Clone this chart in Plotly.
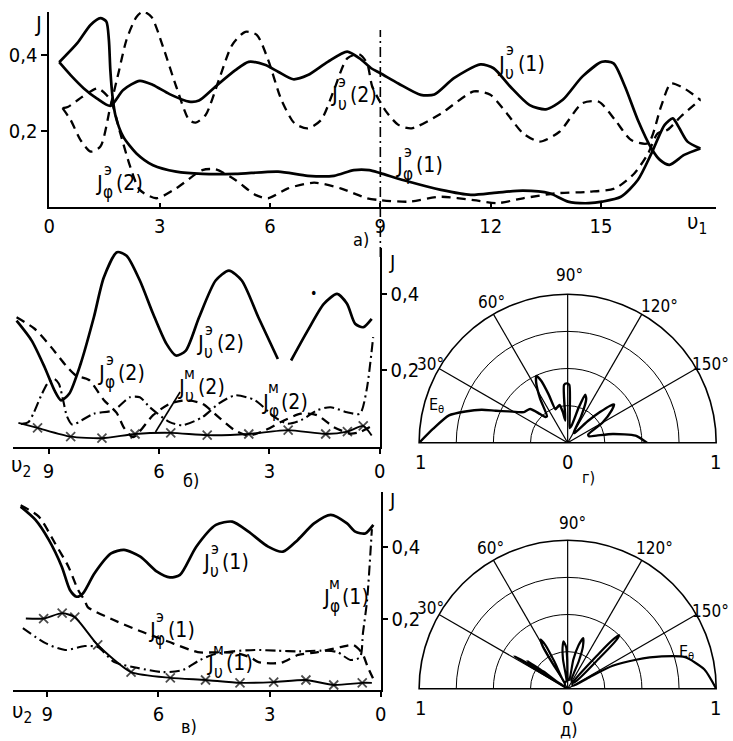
import plotly.graph_objects as go

W, H = 733, 741
FONT = "DejaVu Sans Condensed, Liberation Sans Narrow, DejaVu Sans, sans-serif"

# ---------------- panel а): J vs v1 ----------------
a_ticks = [0, 3, 6, 9, 12, 15]
a_yticks = [0.2, 0.4]
a_ytext = ["0,2", "0,4"]
a_marker_line = 9
a_Jv1 = [(0.27,0.381),(0.58,0.347),(0.94,0.312),(1.3,0.285),(1.66,0.266),(2.01,0.308),(2.46,0.332),
         (2.82,0.321),(3.27,0.297),(3.8,0.277),(4.07,0.28),(4.52,0.317),(5.06,0.36),(5.42,0.382),
         (5.86,0.374),(6.22,0.356),(6.63,0.336),(7.03,0.347),(7.57,0.382),(8.1,0.409),(8.45,0.39),
         (8.75,0.365),(9.0,0.352),(9.49,0.325),(10.1,0.295),(10.47,0.296),(11.0,0.339),(11.72,0.375),
         (12.08,0.365),(12.53,0.317),(13.06,0.268),(13.5,0.257),(13.96,0.282),(14.49,0.343),
         (15.03,0.382),(15.34,0.378),(15.65,0.317),(16.0,0.229),(16.37,0.154),(16.6,0.124),
         (16.86,0.111),(17.26,0.137),(17.7,0.154)]
a_Jphi1 = [(0.27,0.381),(0.76,0.431),(1.12,0.479),(1.39,0.497),(1.55,0.488),(1.62,0.44),(1.66,0.36),
           (1.72,0.29),(1.8,0.24),(2.01,0.185),(2.37,0.141),(2.82,0.11),(3.45,0.093),(4.16,0.087),
           (5.06,0.087),(6.22,0.093),(7.03,0.082),(7.74,0.082),(8.28,0.097),(8.7,0.097),(9.0,0.089),
           (9.76,0.067),(10.65,0.045),(11.46,0.032),(12.17,0.038),(12.88,0.043),(13.6,0.036),
           (14.1,0.014),(14.67,0.01),(15.03,0.014),(15.54,0.027),(16.0,0.071),(16.37,0.141),
           (16.73,0.216),(16.95,0.233),(17.13,0.207),(17.35,0.172),(17.7,0.154)]
a_Jv2 = [(0.36,0.26),(0.58,0.229),(0.85,0.176),(1.12,0.146),(1.39,0.159),(1.66,0.264),(1.88,0.352),
         (2.1,0.44),(2.37,0.5),(2.55,0.514),(2.78,0.5),(3.09,0.422),(3.45,0.317),(3.8,0.229),
         (3.98,0.222),(4.25,0.242),(4.61,0.334),(4.97,0.426),(5.33,0.461),(5.64,0.453),(5.95,0.387),
         (6.31,0.282),(6.67,0.22),(7.03,0.207),(7.39,0.229),(7.74,0.308),(8.1,0.391),(8.42,0.402),
         (8.64,0.378),(8.78,0.317),(9.13,0.255),(9.49,0.216),(9.85,0.207),(10.65,0.246),(11.54,0.304),
         (11.99,0.295),(12.44,0.246),(12.88,0.194),(13.33,0.172),(13.87,0.198),(14.49,0.273),
         (14.94,0.277),(15.38,0.229),(15.82,0.176),(16.28,0.168),(16.63,0.264),(16.9,0.325),
         (17.26,0.312),(17.7,0.282)]
a_Jphi2 = [(0.36,0.26),(0.5,0.263),(0.9,0.29),(1.32,0.312),(1.66,0.282),(1.93,0.194),(2.2,0.106),
           (2.46,0.045),(2.91,0.023),(3.45,0.049),(4.16,0.097),(4.52,0.099),(5.06,0.071),(5.6,0.032),
           (5.95,0.023),(6.49,0.049),(7.2,0.064),(7.92,0.049),(8.64,0.023),(9.0,0.018),(9.76,0.014),
           (10.65,0.027),(11.54,0.018),(12.17,0.01),(12.88,0.023),(13.78,0.036),(14.67,0.04),
           (15.38,0.049),(15.91,0.089),(16.28,0.141),(16.54,0.194),(16.81,0.203),(17.17,0.238),
           (17.7,0.282)]

# ---------------- panel б): J vs v2 (index 2) ----------------
b_ticks = [9, 6, 3, 0]
b_Jv2 = [(9.87,0.33),(9.46,0.278),(9.11,0.209),(8.84,0.148),(8.66,0.122),(8.44,0.139),(8.13,0.217),
         (7.77,0.339),(7.5,0.443),(7.14,0.509),(6.88,0.5),(6.52,0.435),(6.16,0.348),(5.8,0.27),
         (5.54,0.239),(5.27,0.252),(4.91,0.339),(4.46,0.435),(4.1,0.461),(3.75,0.435),(3.3,0.339),
         (2.77,0.23),(None,None),(2.41,0.226),(1.96,0.304),(1.52,0.374),(1.16,0.4),(0.89,0.374),
         (0.67,0.322),(0.45,0.313),(0.22,0.335)]
b_Jphi2 = [(9.87,0.339),(9.38,0.309),(8.93,0.261),(8.53,0.213),(8.26,0.187),(7.9,0.175),(7.5,0.123),
           (7.15,0.089),(6.95,0.05),(6.7,0.026),(6.16,0.083),(5.71,0.113),(5.27,0.122),(4.82,0.113),
           (4.38,0.078),(3.93,0.043),(3.57,0.03),(3.13,0.043),(2.59,0.07),(2.14,0.087),(1.7,0.083),
           (1.25,0.052),(0.8,0.035),(0.54,0.039),(0.27,0.052)]
b_Jphim2 = [(9.75,0.06),(9.55,0.065),(9.4,0.09),(9.2,0.135),(9.0,0.17),(8.85,0.178),(8.72,0.165),
            (8.6,0.12),(8.5,0.08),(8.35,0.058),(8.1,0.07),(7.77,0.087),(7.23,0.096),(6.79,0.13),
            (6.52,0.13),(6.25,0.104),(5.71,0.065),(5.36,0.057),(4.82,0.078),(4.38,0.113),(3.93,0.135),
            (3.39,0.122),(2.86,0.078),(2.5,0.061),(2.14,0.07),(1.7,0.096),(1.34,0.104),(0.89,0.091),
            (0.54,0.087),(0.36,0.148),(0.18,0.287)]
b_Jvm2 = [(9.82,0.063),(9.3,0.05),(8.4,0.027),(7.55,0.023),(6.65,0.034),(5.68,0.037),(4.69,0.031),
          (3.56,0.034),(2.49,0.044),(1.47,0.034),(0.88,0.04),(0.45,0.055),(0.22,0.03)]

# ---------------- panel в): J vs v2 (index 1) ----------------
c_Jv1 = [(9.72,0.513),(9.32,0.476),(8.96,0.42),(8.61,0.345),(8.39,0.28),(8.21,0.261),(8.04,0.27),
         (7.73,0.326),(7.28,0.382),(6.93,0.392),(6.49,0.373),(6.04,0.331),(5.69,0.315),(5.42,0.322),
         (4.98,0.401),(4.45,0.462),(4.01,0.471),(3.57,0.443),(3.04,0.401),(2.64,0.387),(2.24,0.42),
         (1.8,0.466),(1.35,0.49),(0.91,0.466),(0.69,0.443),(0.42,0.438),(0.2,0.462)]
c_Jphi1 = [(9.72,0.517),(9.23,0.485),(8.79,0.41),(8.43,0.345),(8.17,0.28),(7.99,0.25),(7.91,0.232),
           (7.3,0.2),(6.5,0.165),(5.8,0.138),(4.94,0.106),(4.5,0.105),(3.93,0.104),(3.5,0.09),
           (3.3,0.078),(2.7,0.076),(2.23,0.098),(1.7,0.106),(1.09,0.12),(0.74,0.126),(0.5,0.103),
           (0.35,0.064),(0.21,0.033)]
c_Jphim1 = [(9.66,0.173),(9.05,0.131),(8.52,0.112),(7.99,0.123),(7.64,0.12),(7.19,0.078),(6.58,0.062),
            (5.87,0.05),(5.34,0.056),(4.88,0.084),(4.5,0.1),(4.0,0.108),(3.4,0.112),(2.8,0.11),
            (2.2,0.108),(1.6,0.11),(1.17,0.106),(0.82,0.084),(0.56,0.092),(0.48,0.16),(0.37,0.25),
            (0.24,0.45)]
c_Jvm1 = [(9.58,0.2),(9.1,0.2),(8.6,0.215),(8.26,0.204),(7.64,0.126),(6.74,0.05),(5.68,0.034),
          (4.73,0.028),(3.8,0.02),(2.89,0.022),(2.02,0.028),(1.27,0.014),(0.5,0.02),(0.24,0.02)]

# ---------------- polar panels г) and д): E_theta ----------------
polar_spokes = [30, 60, 90, 120, 150]
polar_labels = ["30°", "60°", "90°", "120°", "150°"]
polar_rings = [0.25, 0.5, 0.75, 1.0]
g_theta = [0, 6, 13, 17, 21, 24, 28, 35, 42, 46, 49, 52, 58, 62.5, 65, 67, 68.5, 70, 74, 78, 81, 84,
           86.4, 89, 91.6, 94, 98, 103, 107.5, 110, 113, 117, 121, 125, 133, 136.5, 139, 140.5,
           143.5, 150, 158, 163, 166, 169, 174, 180]
g_r = [1, 0.91, 0.82, 0.72, 0.62, 0.53, 0.45, 0.36, 0.34, 0.27, 0.23, 0.226, 0.35, 0.46, 0.497,
       0.45, 0.35, 0.24, 0.25, 0.26, 0.21, 0.15, 0.39, 0.4, 0.39, 0.2, 0.1, 0.12, 0.25, 0.345, 0.32,
       0.2, 0.08, 0.08, 0.2, 0.3, 0.38, 0.405, 0.37, 0.27, 0.15, 0.15, 0.2, 0.31, 0.46, 0.534]
d_theta = [180, 172, 165, 161, 157, 153, 152, 150,
           130, 131.5, 132.8, 134, 135.2, 136, 136.5,
           115, 112, 110, 107, 104, 101, 100,
           92, 89, 88, 85, 83, 81, 80,
           63, 64, 63, 61, 59.5, 59, 62,
           36, 35.5, 34.6, 34, 34, 33, 31.5, 31, 33]
d_r = [1, 0.93, 0.82, 0.67, 0.5, 0.34, 0.17, 0.04,
       0.05, 0.3, 0.46, 0.5, 0.45, 0.3, 0.06,
       0.06, 0.2, 0.3, 0.357, 0.3, 0.2, 0.06,
       0.06, 0.2, 0.28, 0.32, 0.28, 0.2, 0.05,
       0.05, 0.2, 0.33, 0.378, 0.33, 0.2, 0.04,
       0.03, 0.2, 0.33, 0.2, 0.04, 0.25, 0.42, 0.25, 0.0]

fig = go.Figure()
SOLID = dict(color="black", width=2.7, shape="spline", smoothing=0.7)
DASH = dict(color="black", width=2.3, dash="9px,6px", shape="spline", smoothing=0.7)
DDOT = dict(color="black", width=2.1, dash="10px,4px,2px,4px", shape="spline", smoothing=0.7)
XLINE = dict(color="black", width=1.9, shape="spline", smoothing=0.6)


def add(pts, line, xa, ya, markers=False):
    xs = [p[0] for p in pts]
    ys = [p[1] for p in pts]
    tr = dict(x=xs, y=ys, line=line, xaxis=xa, yaxis=ya, hoverinfo="skip",
              mode="lines+markers" if markers else "lines", cliponaxis=False)
    if markers:
        sizes = [0] + [9] * (len(xs) - 2) + [0]
        tr["marker"] = dict(symbol="x-thin", size=sizes, color="black",
                            line=dict(color="black", width=1.8))
    fig.add_trace(go.Scatter(**tr))


add(a_Jv1, SOLID, "x", "y")
add(a_Jphi1, SOLID, "x", "y")
add(a_Jv2, DASH, "x", "y")
add(a_Jphi2, DASH, "x", "y")

add(b_Jv2, SOLID, "x2", "y2")
add(b_Jphi2, DASH, "x2", "y2")
add(b_Jphim2, DDOT, "x2", "y2")
add(b_Jvm2, XLINE, "x2", "y2", markers=True)

add(c_Jv1, SOLID, "x3", "y3")
add(c_Jphi1, DASH, "x3", "y3")
add(c_Jphim1, DDOT, "x3", "y3")
add(c_Jvm1, XLINE, "x3", "y3", markers=True)

# polar grid spokes and baseline, drawn through the polar scale
for sp in ("polar", "polar2"):
    sr, st = [1, 0, 1], [0, 0, 180]
    for a in polar_spokes:
        sr += [None, 0, 1]
        st += [None, a, a]
    fig.add_trace(go.Scatterpolar(r=sr, theta=st, mode="lines", subplot=sp, hoverinfo="skip",
                                  line=dict(color="black", width=1.2)))

fig.add_trace(go.Scatterpolar(r=g_r, theta=g_theta, mode="lines", subplot="polar",
                              line=dict(color="black", width=2.4, shape="spline", smoothing=0.6),
                              hoverinfo="skip"))
fig.add_trace(go.Scatterpolar(r=d_r, theta=d_theta, mode="lines", subplot="polar2",
                              line=dict(color="black", width=2.2, shape="spline", smoothing=0.6),
                              hoverinfo="skip"))


def px_dom(a, b, total):
    return [a / total, b / total]


def py_dom(top, bottom):
    return [1 - bottom / H, 1 - top / H]


AX = dict(showgrid=False, zeroline=False, showline=True, linecolor="black", linewidth=1.6,
          tickcolor="black", tickwidth=1.6, tickfont=dict(family=FONT, size=20, color="black"),
          fixedrange=True)

layout = dict(
    width=W, height=H, margin=dict(l=0, r=0, t=0, b=0),
    paper_bgcolor="white", plot_bgcolor="white", showlegend=False,
    font=dict(family=FONT, color="black"),
    xaxis=dict(AX, domain=px_dom(44, 722, W), range=[0, 18.13], tickmode="array",
               tickvals=a_ticks, ticks="inside", ticklen=4, anchor="y"),
    yaxis=dict(AX, domain=py_dom(12, 207), range=[0, 0.513], tickmode="array",
               tickvals=a_yticks, ticktext=a_ytext, ticks="outside", ticklen=6, anchor="x"),
    xaxis2=dict(AX, domain=px_dom(7, 380, W), range=[9.97, 0], tickmode="array",
                tickvals=b_ticks, ticks="outside", ticklen=5, anchor="y2"),
    yaxis2=dict(AX, domain=py_dom(248, 447), range=[0, 0.52], tickmode="array",
                tickvals=a_yticks, ticktext=a_ytext, ticks="outside", ticklen=5,
                side="right", anchor="x2"),
    xaxis3=dict(AX, domain=px_dom(7, 381, W), range=[9.93, 0], tickmode="array",
                tickvals=b_ticks, ticks="outside", ticklen=5, anchor="y3"),
    yaxis3=dict(AX, domain=py_dom(492, 690), range=[0, 0.554], tickmode="array",
                tickvals=a_yticks, ticktext=a_ytext, ticks="outside", ticklen=5,
                side="right", anchor="x3"),
)


def polar_cfg(top, bottom):
    return dict(
        domain=dict(x=px_dom(420, 722, W), y=py_dom(top, bottom)),
        sector=[0, 180], bgcolor="white",
        angularaxis=dict(rotation=180, direction="clockwise", showgrid=False,
                         showticklabels=False, ticks="", showline=True,
                         linecolor="black", linewidth=1.6),
        radialaxis=dict(range=[0, 1], tickmode="array", tickvals=polar_rings,
                        showticklabels=False, ticks="", showline=False,
                        gridcolor="black", gridwidth=1.2),
    )


layout["polar"] = polar_cfg(293, 444)
layout["polar2"] = polar_cfg(539, 690)

ann = []


def T(px, py, s, size=20, xanchor="center", yanchor="middle"):
    ann.append(dict(x=px / W, y=1 - py / H, xref="paper", yref="paper", text=s,
                    showarrow=False, xanchor=xanchor, yanchor=yanchor,
                    font=dict(family=FONT, size=size, color="black")))


def J(px, py, sup, sub, tail):
    T(px, py, "J", 22)
    T(px + 9, py - 14, sup, 16)
    T(px + 9, py + 9, sub, 17)
    T(px + 15, py, tail, 21, xanchor="left")


# axis names
T(33, 25, "J", 22)
T(702, 224, "υ<sub>1</sub>", 22)
T(392, 262, "J", 20)
T(392, 500, "J", 20)
T(15, 466, "υ<sub>2</sub>", 22)
T(16, 712, "υ<sub>2</sub>", 22)

# panel letters
T(361, 239, "а)", 18)
T(188, 480, "б)", 18)
T(186, 726, "в)", 18)
T(592, 477, "г)", 16)
T(572, 729, "д)", 18)

# polar angle labels (г and д)
g_label_px = [(432, 364), (494, 302), (573, 275), (664, 306), (716, 364)]
d_label_px = [(432, 608), (493, 548), (576, 523), (659, 548), (716, 611)]
for lab, (x0, y0), (x1, y1) in zip(polar_labels, g_label_px, d_label_px):
    T(x0, y0, lab, 17)
    T(x1, y1, lab, 17)

# polar radial labels
for yy in (462, 708):
    T(421, yy, "1", 20)
    T(571, yy, "0", 20)
    T(721, yy, "1", 20)
T(438, 406, "E<sub>θ</sub>", 16)
T(692, 652, "E<sub>θ</sub>", 16)

# curve labels
J(503, 64, "э", "υ", "(1)")
J(333, 95, "э", "υ", "(2)")
J(400, 165, "э", "φ", "(1)")
J(95, 183, "э", "φ", "(2)")

J(197, 343, "э", "υ", "(2)")
J(97, 373, "э", "φ", "(2)")
J(178, 387, "м", "υ", "(2)")
J(263, 402, "м", "φ", "(2)")

J(203, 562, "э", "υ", "(1)")
J(325, 597, "м", "φ", "(1)")
J(148, 630, "э", "φ", "(1)")
J(207, 663, "м", "υ", "(1)")

T(313, 293, "•", 14)

layout["annotations"] = ann
layout["shapes"] = [
    dict(type="line", xref="x", yref="paper", x0=a_marker_line, x1=a_marker_line,
         y0=1 - 257 / H, y1=1 - 30 / H, line=dict(color="black", width=1.6, dash="10px,4px,2px,4px")),
    dict(type="line", xref="paper", yref="paper", x0=152 / W, x1=177 / W,
         y0=1 - 432 / H, y1=1 - 392 / H, line=dict(color="black", width=1.6)),
]

fig.update_layout(**layout)
fig.write_html("out.html", config={"displayModeBar": False},
               post_script="document.body.style.margin='0px';")
